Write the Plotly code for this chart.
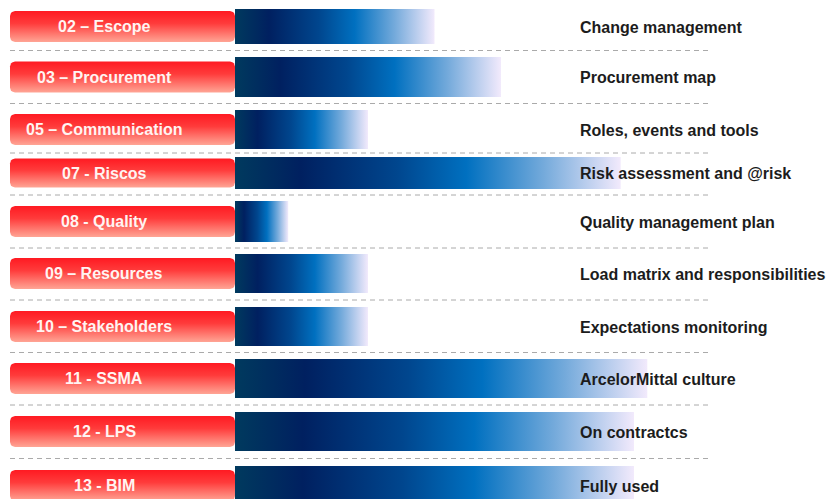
import numpy as np
import plotly.graph_objects as go

# Data
tasks = ["02 – Escope", "03 – Procurement", "05 – Communication", "07 - Riscos",
         "08 - Quality", "09 – Resources", "10 – Stakeholders", "11 - SSMA",
         "12 - LPS", "13 - BIM"]
deliverables = ["Change management", "Procurement map", "Roles, events and tools",
                "Risk assessment and @risk", "Quality management plan",
                "Load matrix and responsibilities", "Expectations monitoring",
                "ArcelorMittal culture", "On contractcs", "Fully used"]
values = [15, 20, 10, 29, 4, 10, 10, 31, 30, 30]

# Layout (pixel units, y grows downward)
W, H = 830, 499
BAR_X0 = 235          # px where bars start
PX_PER_UNIT = 13.3
row_center = [26.5, 77, 129.5, 173, 221.5, 273.5, 326.5, 378.5, 431.5, 485.5]
bar_height = [35, 40, 39, 32, 41, 39, 39, 39, 39, 39]
label_height = [31, 31, 31, 29, 31, 31, 31, 31, 31, 31]

bar_scale = [[0.0, "#003a5e"], [0.17, "#002060"], [0.42, "#00468e"],
             [0.6, "#0070c0"], [0.8, "#74aadb"], [1.0, "#f2eafc"]]
label_scale = [[0.0, "#ff1a22"], [0.4, "#ff3b3b"], [1.0, "#ffa595"]]


def px_to_x(px):
    return (px - BAR_X0) / PX_PER_UNIT


def rounded_rect(x0, x1, y0, y1, r=5, n=6):
    """Rounded rectangle outline, corners in px, returned in axis units."""
    xs, ys = [], []
    corners = [(x1 - r, y0 + r, -np.pi / 2, 0), (x1 - r, y1 - r, 0, np.pi / 2),
               (x0 + r, y1 - r, np.pi / 2, np.pi), (x0 + r, y0 + r, np.pi, 1.5 * np.pi)]
    for cx, cy, a0, a1 in corners:
        for a in np.linspace(a0, a1, n):
            xs.append(px_to_x(cx + r * np.cos(a)))
            ys.append(cy + r * np.sin(a))
    xs.append(xs[0])
    ys.append(ys[0])
    return xs, ys


fig = go.Figure()

# dashed separators halfway between rows
shapes = []
for i in range(len(tasks) - 1):
    yb = row_center[i] + bar_height[i] / 2
    yt = row_center[i + 1] - bar_height[i + 1] / 2
    ym = (yb + yt) / 2
    shapes.append(dict(type="line", xref="paper", yref="y",
                       x0=10 / W, x1=710 / W, y0=ym, y1=ym,
                       line=dict(color="#aaaaaa", width=1, dash="5px,4px")))

for i, (task, deliv, v) in enumerate(zip(tasks, deliverables, values)):
    yc = row_center[i]
    # red label box
    lh = label_height[i]
    lx, ly = rounded_rect(10, 235, yc - lh / 2, yc + lh / 2)
    fig.add_trace(go.Scatter(
        x=lx, y=ly, mode="lines", line=dict(width=0), fill="toself",
        fillgradient=dict(type="vertical", colorscale=label_scale,
                          start=yc - lh / 2, stop=yc + lh / 2),
        hoverinfo="skip", showlegend=False))
    # blue gradient bar
    bh = bar_height[i]
    fig.add_trace(go.Scatter(
        x=[0, v, v, 0, 0],
        y=[yc - bh / 2, yc - bh / 2, yc + bh / 2, yc + bh / 2, yc - bh / 2],
        mode="lines", line=dict(width=0), fill="toself",
        fillgradient=dict(type="horizontal", colorscale=bar_scale, start=0, stop=v),
        hoverinfo="skip", showlegend=False))

annotations = []
for i, (task, deliv) in enumerate(zip(tasks, deliverables)):
    annotations.append(dict(
        x=104 / W, xref="paper", y=row_center[i], yref="y", text=f"<b>{task}</b>",
        showarrow=False, xanchor="center", yanchor="middle",
        font=dict(family="Liberation Sans, Arial", size=16, color="#fff4f2")))
    annotations.append(dict(
        x=578 / W, xref="paper", y=row_center[i] + 0.5, yref="y", text=f"<b>{deliv}</b>",
        showarrow=False, xanchor="left", yanchor="middle",
        font=dict(family="Liberation Sans, Arial", size=16, color="#1c1c1c")))

fig.update_layout(
    width=W, height=H,
    margin=dict(l=0, r=0, t=0, b=0),
    paper_bgcolor="white", plot_bgcolor="white",
    xaxis=dict(range=[px_to_x(0), px_to_x(W)], visible=False, fixedrange=True),
    yaxis=dict(range=[H, 0], visible=False, fixedrange=True),
    shapes=shapes, annotations=annotations,
    showlegend=False,
)

# drop the default page margin so the figure sits flush in the window
fig.write_html("out.html", config={"displayModeBar": False},
               post_script="document.body.style.margin='0';")
